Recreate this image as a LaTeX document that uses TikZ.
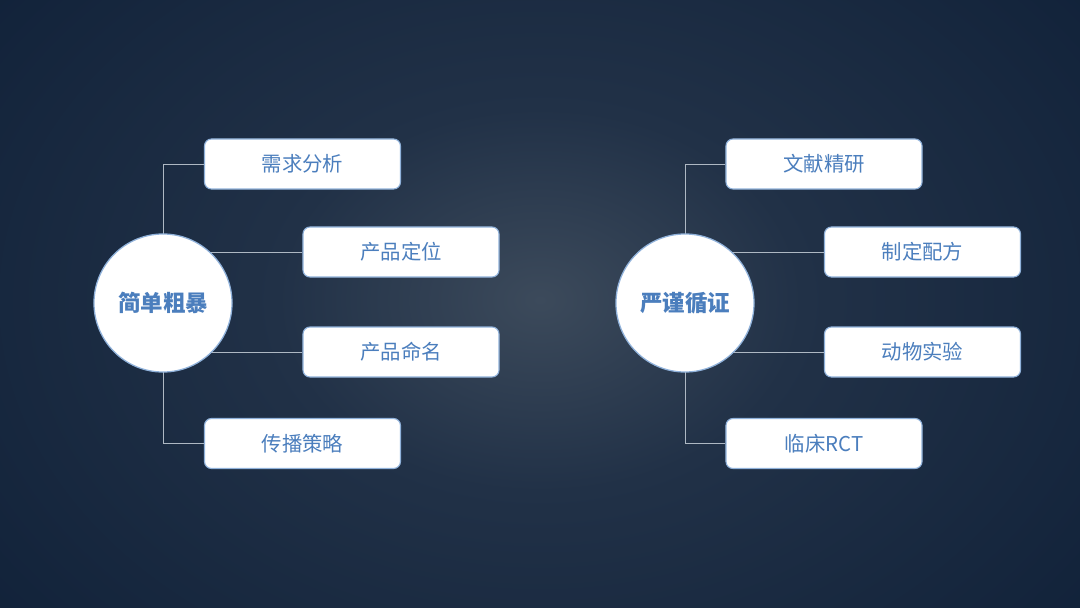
\documentclass[tikz,border=0pt]{standalone}
\usepackage{fontspec}
\usepackage{tikz}
\usetikzlibrary{positioning, calc}
\newfontfamily\cjk{Noto Sans CJK SC}
\definecolor{BgIn}{HTML}{3C4A5B}
\definecolor{BgMid}{HTML}{213147}
\definecolor{BgOut}{HTML}{0D1E36}
\definecolor{TextBlue}{HTML}{4B7EBD}
\definecolor{EdgeBlue}{HTML}{8FB1DA}
\definecolor{LinkGray}{HTML}{AEB8C3}
\pgfdeclareradialshading{bgglow}{\pgfpoint{0bp}{0bp}}{color(0bp)=(BgIn); color(8bp)=(BgMid); color(25bp)=(BgOut); color(50bp)=(BgOut)}
\pgfdeclarelayer{back}
\pgfdeclarelayer{links}
\pgfsetlayers{back,links,main}

\begin{document}
\begin{tikzpicture}[
        x=0.025cm, y=-0.025cm,
        every node/.style={align=center, font=\cjk, text=TextBlue},
        hub/.style={circle, draw=EdgeBlue, line width=0.9pt, fill=white, minimum size=3.45cm, inner sep=0pt, font=\cjk\bfseries\fontsize{16}{18}\selectfont},
        item/.style={draw=EdgeBlue, line width=0.8pt, rounded corners=5pt, fill=white, minimum width=4.9cm, minimum height=1.25cm, inner sep=0pt, font=\cjk\fontsize{14.5}{17}\selectfont},
        link/.style={draw=LinkGray, line width=0.6pt}
    ]
        % background
        \begin{pgfonlayer}{back}
            \fill[BgOut] (0,0) rectangle (1080,607);
            \begin{scope}
                \clip (0,0) rectangle (1080,607);
                \shade[shading=bgglow] (540,300) ellipse [x radius=820, y radius=600];
            \end{scope}
        \end{pgfonlayer}
        \useasboundingbox (0,0) rectangle (1080,607);

        % left group
        \node[hub] (simple) at (163,303) {简单粗暴};
        \node[item] (need) at (302.5,164) {需求分析};
        \node[item] (position) at (401,252) {产品定位};
        \node[item] (naming) at (401,352) {产品命名};
        \node[item] (spread) at (302.5,443.5) {传播策略};

        % right group
        \node[hub] (rigor) at (685,303) {严谨循证};
        \node[item] (study) at (824,164) {文献精研};
        \node[item] (formula) at (922.5,252) {制定配方};
        \node[item] (animal) at (922.5,352) {动物实验};
        \node[item] (trial) at (824,443.5) {临床RCT};

        \begin{pgfonlayer}{links}
            \draw[link] (simple.center) |- (need.west);
            \draw[link] (simple.center) -- (simple.center |- position.west) -- (position.west);
            \draw[link] (simple.center) -- (simple.center |- naming.west) -- (naming.west);
            \draw[link] (simple.center) |- (spread.west);
            \draw[link] (rigor.center) |- (study.west);
            \draw[link] (rigor.center) -- (rigor.center |- formula.west) -- (formula.west);
            \draw[link] (rigor.center) -- (rigor.center |- animal.west) -- (animal.west);
            \draw[link] (rigor.center) |- (trial.west);
        \end{pgfonlayer}
    \end{tikzpicture}
\end{document}
